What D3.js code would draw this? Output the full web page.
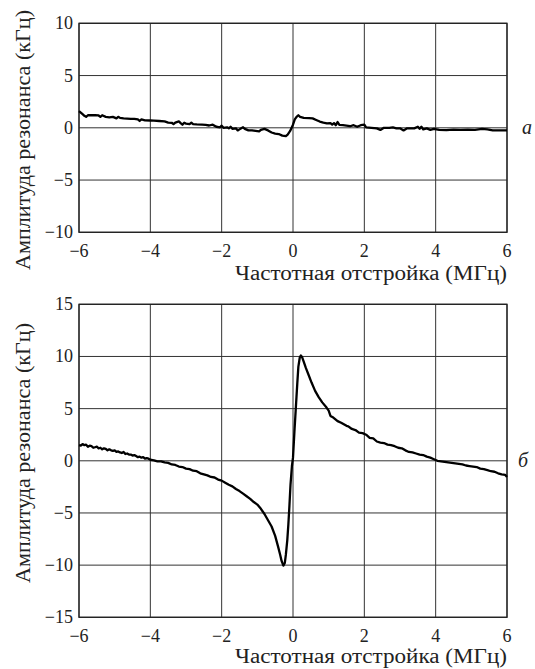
<!DOCTYPE html>
<html lang="ru">
  <head>
    <meta charset="UTF-8" />
    <title>Амплитуда резонанса</title>
    <style>
      body {
        margin: 0;
        background: #fff;
      }
    </style>
  </head>
  <body>
    <div id="chart"></div>
    <script src="https://cdnjs.cloudflare.com/ajax/libs/d3/7.8.5/d3.min.js"></script>
    <script>
      // tick labels / axis ranges
      var xTicks = [-6, -4, -2, 0, 2, 4, 6];
      var yTicksA = [-10, -5, 0, 5, 10];
      var yTicksB = [-15, -10, -5, 0, 5, 10, 15];
      var xTitle = "Частотная отстройка (МГц)";
      var yTitle = "Амплитуда резонанса (кГц)";

      // panel a: detuning (MHz), amplitude (kHz)
      var detuneA = [
        -6.0, -5.95, -5.9, -5.85, -5.8, -5.75, -5.65, -5.55, -5.45, -5.4, -5.35,
        -5.25, -5.15, -5.05, -4.95, -4.9, -4.85, -4.75, -4.65, -4.55, -4.45,
        -4.35, -4.3, -4.25, -4.15, -4.0, -3.9, -3.75, -3.6, -3.5, -3.4, -3.35,
        -3.3, -3.2, -3.15, -3.1, -3.05, -3.0, -2.9, -2.85, -2.8, -2.7, -2.55,
        -2.45, -2.35, -2.25, -2.15, -2.05, -2.0, -1.95, -1.85, -1.8, -1.75,
        -1.7, -1.6, -1.55, -1.5, -1.45, -1.4, -1.35, -1.25, -1.15, -1.05,
        -0.95, -0.9, -0.8, -0.7, -0.6, -0.5, -0.4, -0.3, -0.2, -0.15, -0.08,
        0.0, 0.05, 0.1, 0.15, 0.2, 0.3, 0.45, 0.55, 0.65, 0.75, 0.85, 0.95,
        1.05, 1.1, 1.15, 1.2, 1.25, 1.3, 1.4, 1.5, 1.6, 1.7, 1.8, 1.9, 2.0,
        2.05, 2.2, 2.35, 2.45, 2.55, 2.7, 2.8, 2.9, 3.0, 3.1, 3.2, 3.4, 3.5,
        3.55, 3.6, 3.65, 3.75, 3.85, 3.95, 4.1, 4.3, 4.5, 4.7, 4.9, 5.1, 5.3,
        5.45, 5.6, 5.8, 6.0,
      ];
      var ampA = [
        1.6, 1.45, 1.3, 1.15, 1.05, 1.2, 1.22, 1.2, 1.18, 1.05, 1.2, 1.05, 1.0,
        1.05, 0.9, 1.05, 0.95, 0.9, 0.88, 0.85, 0.85, 0.8, 0.65, 0.8, 0.72, 0.7,
        0.68, 0.65, 0.62, 0.5, 0.48, 0.35, 0.5, 0.62, 0.45, 0.3, 0.48, 0.4,
        0.35, 0.48, 0.35, 0.32, 0.3, 0.28, 0.22, 0.3, 0.1, 0.05, 0.2, 0.0, 0.05,
        -0.05, 0.1, -0.1, -0.05, -0.25, -0.15, -0.05, 0.05, -0.1, -0.25, -0.25,
        -0.3, -0.35, -0.2, -0.1, -0.25, -0.45, -0.55, -0.6, -0.75, -0.8, -0.65,
        -0.3, 0.3, 0.8, 1.05, 1.2, 1.05, 0.95, 0.92, 0.9, 0.75, 0.6, 0.5, 0.42,
        0.45, 0.3, 0.45, 0.25, 0.55, 0.28, 0.25, 0.2, 0.15, 0.25, 0.1, 0.25,
        0.3, 0.05, 0.0, -0.05, -0.2, 0.0, 0.0, 0.05, -0.05, -0.05, -0.25, -0.05,
        -0.05, 0.1, -0.1, 0.1, -0.15, -0.05, -0.2, -0.1, -0.2, -0.22, -0.18,
        -0.2, -0.18, -0.2, -0.1, -0.15, -0.25, -0.25, -0.25,
      ];

      // panel б
      var detuneB = [
        -6.0, -5.95, -5.9, -5.85, -5.8, -5.75, -5.7, -5.65, -5.6, -5.55, -5.5,
        -5.45, -5.4, -5.35, -5.3, -5.25, -5.2, -5.15, -5.1, -5.05, -5.0, -4.95,
        -4.9, -4.85, -4.8, -4.75, -4.7, -4.65, -4.6, -4.55, -4.5, -4.45, -4.4,
        -4.35, -4.3, -4.25, -4.2, -4.15, -4.1, -4.05, -4.0, -3.9, -3.8, -3.7,
        -3.6, -3.5, -3.4, -3.3, -3.2, -3.1, -3.0, -2.9, -2.8, -2.7, -2.6, -2.5,
        -2.4, -2.3, -2.2, -2.1, -2.0, -1.9, -1.8, -1.7, -1.6, -1.5, -1.4, -1.3,
        -1.2, -1.1, -1.0, -0.9, -0.8, -0.7, -0.6, -0.5, -0.42, -0.36, -0.32,
        -0.27, -0.23, -0.2, -0.16, -0.13, -0.1, -0.07, -0.03, 0.0, 0.04, 0.08,
        0.12, 0.15, 0.19, 0.22, 0.26, 0.3, 0.36, 0.43, 0.52, 0.62, 0.72, 0.82,
        0.94, 1.0, 1.05, 1.13, 1.25, 1.35, 1.5, 1.55, 1.65, 1.75, 1.85, 1.95,
        2.05, 2.15, 2.25, 2.35, 2.45, 2.55, 2.65, 2.75, 2.85, 2.95, 3.05, 3.15,
        3.25, 3.35, 3.45, 3.55, 3.65, 3.75, 3.85, 3.95, 4.05, 4.15, 4.25, 4.35,
        4.45, 4.55, 4.65, 4.75, 4.85, 4.95, 5.05, 5.15, 5.25, 5.35, 5.45, 5.55,
        5.65, 5.75, 5.85, 5.95, 6.0,
      ];
      var ampB = [
        1.5, 1.45, 1.6, 1.5, 1.55, 1.35, 1.45, 1.4, 1.25, 1.3, 1.35, 1.2, 1.25,
        1.1, 1.2, 1.15, 1.0, 1.1, 1.0, 0.95, 1.0, 0.85, 0.9, 0.8, 0.75, 0.85,
        0.65, 0.7, 0.6, 0.6, 0.5, 0.55, 0.45, 0.35, 0.4, 0.3, 0.35, 0.2, 0.25,
        0.2, 0.1, 0.05, -0.05, -0.05, -0.15, -0.2, -0.35, -0.4, -0.55, -0.6,
        -0.75, -0.8, -0.95, -1.0, -1.2, -1.3, -1.4, -1.55, -1.6, -1.8, -1.9,
        -2.1, -2.3, -2.45, -2.7, -2.9, -3.15, -3.4, -3.65, -3.95, -4.2, -4.6,
        -5.1, -5.7, -6.3, -7.2, -8.2, -9.0, -9.6, -10.05, -9.8, -9.0, -7.6,
        -6.1, -4.3, -2.3, -0.5, 0.3, 2.8, 5.1, 7.4, 9.0, 9.9, 10.1, 9.9, 9.5,
        8.9, 8.3, 7.5, 6.7, 6.1, 5.6, 5.1, 4.8, 4.3, 4.15, 3.8, 3.65, 3.35, 3.3,
        3.05, 2.95, 2.7, 2.65, 2.5, 2.2, 2.15, 1.85, 1.75, 1.7, 1.55, 1.5, 1.4,
        1.25, 1.2, 1.0, 0.85, 0.8, 0.7, 0.6, 0.55, 0.4, 0.3, 0.15, 0.0, -0.05,
        -0.1, -0.15, -0.2, -0.25, -0.3, -0.35, -0.45, -0.5, -0.55, -0.6, -0.75,
        -0.8, -0.9, -1.0, -1.05, -1.2, -1.3, -1.35, -1.55,
      ];

      var W = 535,
        H = 669;
      var font = "'Liberation Serif', 'DejaVu Serif', serif";

      var svg = d3
        .select("#chart")
        .append("svg")
        .attr("width", W)
        .attr("height", H)
        .attr("font-family", font);

      function fmt(d) {
        return d < 0 ? "\u2212" + -d : String(d);
      }

      function panel(cfg) {
        var x = d3.scaleLinear().domain([-6, 6]).range([79, 507]);
        var y = d3
          .scaleLinear()
          .domain(d3.extent(cfg.yTicks))
          .range([cfg.bottom, cfg.top]);

        var g = svg.append("g");

        // grid
        g.selectAll(".vgrid")
          .data(xTicks)
          .enter()
          .append("line")
          .attr("x1", (d) => x(d))
          .attr("x2", (d) => x(d))
          .attr("y1", cfg.top)
          .attr("y2", cfg.bottom)
          .attr("stroke", "#333")
          .attr("stroke-width", 1);
        g.selectAll(".hgrid")
          .data(cfg.yTicks)
          .enter()
          .append("line")
          .attr("x1", 79)
          .attr("x2", 507)
          .attr("y1", (d) => y(d))
          .attr("y2", (d) => y(d))
          .attr("stroke", "#333")
          .attr("stroke-width", 1);

        // frame
        g.append("rect")
          .attr("x", 79)
          .attr("y", cfg.top)
          .attr("width", 428)
          .attr("height", cfg.bottom - cfg.top)
          .attr("fill", "none")
          .attr("stroke", "#222")
          .attr("stroke-width", 1.3);

        // tick labels
        g.selectAll(".xt")
          .data(xTicks)
          .enter()
          .append("text")
          .attr("font-size", 18)
          .attr("fill", "#222")
          .attr("x", (d) => x(d))
          .attr("y", cfg.bottom + 25)
          .attr("text-anchor", "middle")
          .text(fmt);
        g.selectAll(".yt")
          .data(cfg.yTicks)
          .enter()
          .append("text")
          .attr("font-size", 18)
          .attr("fill", "#222")
          .attr("x", 73)
          .attr("y", (d) => y(d) + 6)
          .attr("text-anchor", "end")
          .text(fmt);

        // titles
        g.append("text")
          .attr("font-size", 20)
          .attr("fill", "#222")
          .attr("x", 507)
          .attr("y", cfg.bottom + cfg.titleGap)
          .attr("text-anchor", "end")
          .attr("textLength", 272)
          .attr("lengthAdjust", "spacingAndGlyphs")
          .text(xTitle);
        g.append("text")
          .attr("font-size", 20)
          .attr("fill", "#222")
          .attr("transform", "translate(30," + cfg.labelY + ") rotate(-90)")
          .attr("text-anchor", "middle")
          .attr("textLength", 260)
          .attr("lengthAdjust", "spacingAndGlyphs")
          .text(yTitle);

        // panel letter
        g.append("text")
          .attr("font-size", 20)
          .attr("font-style", "italic")
          .attr("fill", "#222")
          .attr("x", cfg.letterX)
          .attr("y", y(0) + 6)
          .attr("text-anchor", "middle")
          .text(cfg.letter);

        // curve
        var pts = cfg.xs.map((d, i) => [d, cfg.ys[i]]);
        g.append("path")
          .datum(pts)
          .attr("fill", "none")
          .attr("stroke", "#000")
          .attr("stroke-width", 2.3)
          .attr("stroke-linejoin", "round")
          .attr(
            "d",
            d3
              .line()
              .x((d) => x(d[0]))
              .y((d) => y(d[1]))
          );
      }

      panel({
        top: 23.3,
        bottom: 232.3,
        yTicks: yTicksA,
        xs: detuneA,
        ys: ampA,
        labelY: 140,
        titleGap: 48,
        letter: "а",
        letterX: 527,
      });
      panel({
        top: 304.3,
        bottom: 617.3,
        yTicks: yTicksB,
        xs: detuneB,
        ys: ampB,
        labelY: 453,
        titleGap: 46,
        letter: "б",
        letterX: 523,
      });
    </script>
  </body>
</html>
